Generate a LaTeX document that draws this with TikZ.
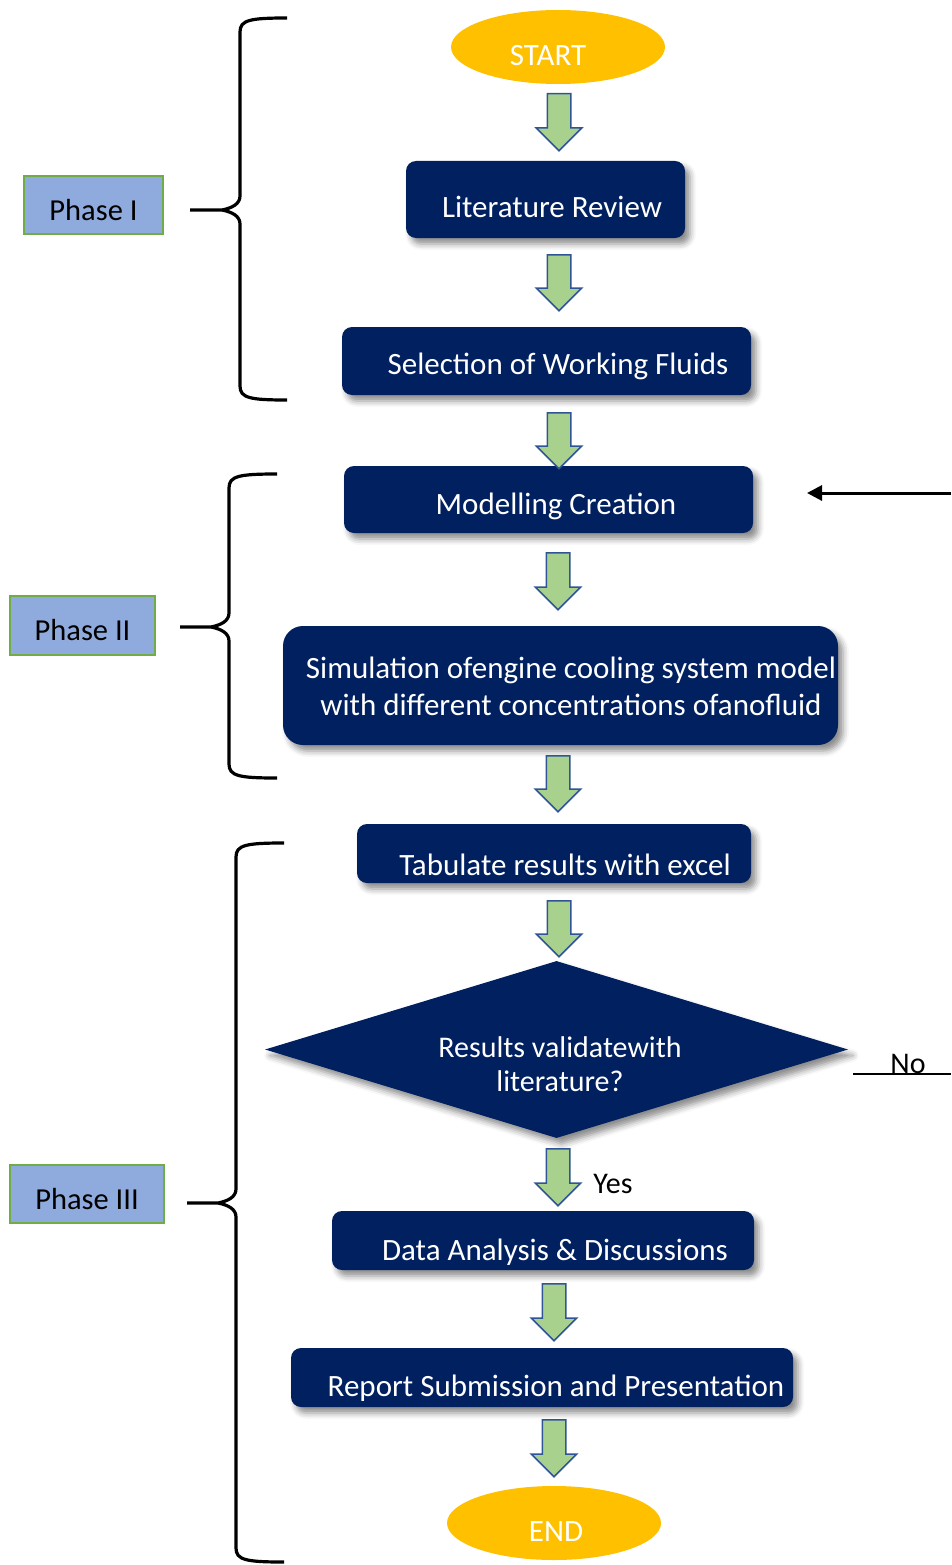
\documentclass[tikz,border=0pt]{standalone}
\usepackage{fontspec}
\setmainfont{Carlito}
\usetikzlibrary{shapes.geometric,shapes.arrows,shadows.blur,arrows.meta}
\definecolor{navy}{RGB}{0,32,96}
\definecolor{gold}{RGB}{255,192,0}
\definecolor{agreen}{RGB}{169,209,142}
\definecolor{ablue}{RGB}{47,85,151}
\definecolor{pblue}{RGB}{143,170,220}
\definecolor{pgreen}{RGB}{112,173,71}
\newcommand\mybrace[6]{% #1 x, #2 top, #3 bottom, #4 mid, #5 tip x, #6 end x
\draw[bracestyle] (#6,#2) .. controls ({#1+10},#2) and (#1,{#2+2}) .. (#1,{#2+14}) -- (#1,{#4-14}) .. controls (#1,{#4-6}) and ({#1-8},{#4-2}) .. ({#1-18},#4) -- (#5,#4)
 ({#1-18},#4) .. controls ({#1-8},{#4+2}) and (#1,{#4+6}) .. (#1,{#4+14}) -- (#1,{#3-14}) .. controls (#1,{#3-2}) and ({#1+10},#3) .. (#6,#3);}
\begin{document}
\begin{tikzpicture}[x=1pt,y=-1pt,
  box/.style={fill=navy, draw=none, rounded corners=10pt, inner sep=0,
    blur shadow={shadow xshift=5pt, shadow yshift=-6pt, shadow blur radius=6pt, shadow opacity=45}},
  term/.style={ellipse, fill=gold, draw=none, inner sep=0, minimum width=214pt, minimum height=74pt},
  txt/.style={text=white, font=\fontsize{31}{37}\selectfont, inner sep=0, text height=20pt, text depth=0pt},
  mtxt/.style={text=white, font=\fontsize{31}{37}\selectfont, inner sep=0, align=center},
  barrow/.style={single arrow, fill=agreen, draw=ablue, line width=1.5pt, inner xsep=0pt, inner ysep=11pt,
    minimum width=44pt, single arrow head extend=11pt, single arrow head indent=0pt,
    rotate=-90, anchor=tail},
  phase/.style={fill=pblue, draw=pgreen, line width=1.5pt, inner sep=0,
    font=\fontsize{30.5}{36}\selectfont, text=black, text height=30pt, text depth=0pt},
  bracestyle/.style={line width=3.2pt, black},
  plain/.style={font=\fontsize{30}{36}\selectfont, text=black, inner sep=0, text height=20pt, text depth=0pt}
]
\useasboundingbox (0,0) rectangle (951,1565);

% terminals
\node[term] (start) at (558,47) {};
\node[txt] (starttxt) at (548,56) {START};
\node[term] (end) at (554,1523) {};
\node[txt] (endtxt) at (556,1531) {END};

% process boxes
\node[box, minimum width=279pt, minimum height=77pt] (lit) at (545.5,199.5) {};
\node[txt] (littxt) at (552,208) {Literature Review};
\node[box, minimum width=409pt, minimum height=68pt] (sel) at (546.5,361) {};
\node[txt] (seltxt) at (558,364) {Selection of Working Fluids};
\node[box, minimum width=409pt, minimum height=67pt] (mod) at (548.5,499.5) {};
\node[txt] (modtxt) at (556,504) {Modelling Creation};
\node[box, rounded corners=20pt, minimum width=555pt, minimum height=119pt] (sim) at (560.5,685.5) {};
\node[mtxt] (simtxt) at (571,686) {Simulation ofengine cooling system model\\with different concentrations ofanofluid};
\node[box, minimum width=394pt, minimum height=59pt] (tab) at (554,853.5) {};
\node[txt] (tabtxt) at (565,865) {Tabulate results with excel};
\node[diamond, fill=navy, draw=none, inner sep=0, minimum width=583pt, minimum height=177pt,
  blur shadow={shadow xshift=5pt, shadow yshift=-6pt, shadow blur radius=6pt, shadow opacity=45}] (dia) at (556.5,1049.5) {};
\node[mtxt, font=\fontsize{30}{34}\selectfont] (diatxt) at (560,1064) {Results validatewith\\literature?};
\node[box, minimum width=422pt, minimum height=59pt] (dat) at (543,1240.5) {};
\node[txt] (dattxt) at (555,1250) {Data Analysis \& Discussions};
\node[box, minimum width=502pt, minimum height=59pt] (rep) at (542,1377.5) {};
\node[txt] (reptxt) at (556,1386) {Report Submission and Presentation};

% block arrows
\node[barrow, minimum height=57pt] (a1) at (559,93) {};
\node[barrow, minimum height=56pt] (a2) at (559,254) {};
\node[barrow, minimum height=56pt] (a3) at (559,412) {};
\node[barrow, minimum height=57pt] (a4) at (558,552) {};
\node[barrow, minimum height=56pt] (a5) at (558,755) {};
\node[barrow, minimum height=56pt] (a6) at (559,900) {};
\node[barrow, minimum height=57pt] (a7) at (558,1148) {};
\node[barrow, minimum height=57pt] (a8) at (554,1283) {};
\node[barrow, minimum height=57pt] (a9) at (554,1419) {};

\node[plain] (yes) at (613,1183) {Yes};
\node[plain] (no) at (908,1063) {No};

% feedback connectors
\coordinate (fbR) at (951,493);
\coordinate (fbL) at (807,493);
\draw[line width=3pt, -{Triangle[length=15pt,width=15pt]}] (fbR) -- (fbL);
\coordinate (noL) at (853,1074);
\coordinate (noR) at (951,1074);
\draw[line width=2pt] (noL) -- (noR);

% phases
\node[phase, minimum width=139pt, minimum height=58pt] (p1) at (93.5,205) {Phase I};
\node[phase, minimum width=145pt, minimum height=59pt] (p2) at (82.5,625.5) {Phase II};
\node[phase, minimum width=154pt, minimum height=58pt] (p3) at (87,1194) {Phase III};

% braces
\mybrace{240}{18}{400}{210}{190}{287}
\mybrace{229}{474}{778}{627}{180}{277}
\mybrace{236}{843}{1562}{1203}{187}{284}
\end{tikzpicture}
\end{document}
